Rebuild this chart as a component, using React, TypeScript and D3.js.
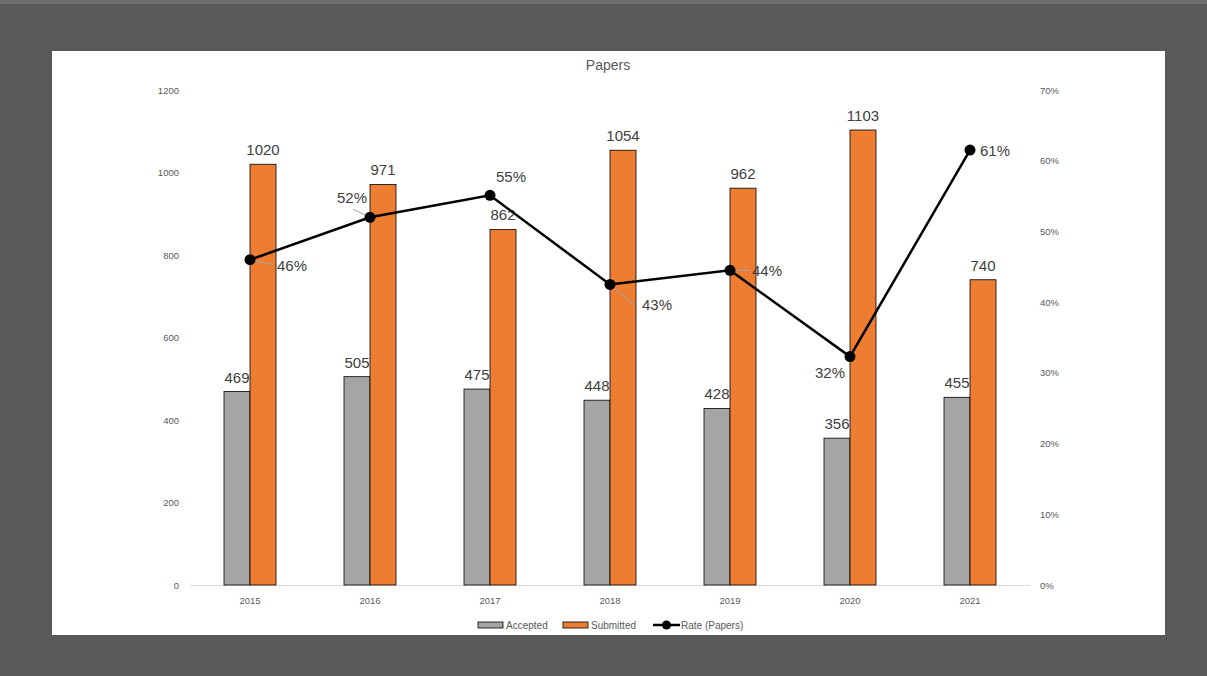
import React from "react";
import * as d3 from "d3";

const years = ["2015", "2016", "2017", "2018", "2019", "2020", "2021"];
const accepted = [469, 505, 475, 448, 428, 356, 455];
const submitted = [1020, 971, 862, 1054, 962, 1103, 740];
const rate = [0.46, 0.52, 0.551, 0.425, 0.445, 0.323, 0.615];
const rateLabels = ["46%", "52%", "55%", "43%", "44%", "32%", "61%"];
const leftTicks = [0, 200, 400, 600, 800, 1000, 1200];
const rightTicks = [0, 0.1, 0.2, 0.3, 0.4, 0.5, 0.6, 0.7];

// label placement relative to point: [dx, dy] of text center
const rateLabelOffsets: [number, number][] = [
  [42, 6],
  [-18, -19],
  [21, -18],
  [47, 21],
  [37, 1],
  [-20, 16],
  [25, 1],
];
// leader line end relative to point (null = none)
const leaderEnds: ([number, number] | null)[] = [
  [23, 5],
  [-17, -8],
  null,
  [25, 21],
  [20, 0],
  null,
  null,
];

const W = 1207;
const H = 676;
const FONT = "'Liberation Sans', 'DejaVu Sans', sans-serif";

export default function App() {
  const x = d3.scaleBand<string>().domain(years).range([190, 1030]).padding(0);
  const yL = d3.scaleLinear().domain([0, 1200]).range([585, 90]);
  const yR = d3.scaleLinear().domain([0, 0.7]).range([585, 90]);
  const bw = 26;
  const cx = (y: string) => (x(y) as number) + x.bandwidth() / 2;
  const line = d3
    .line<number>()
    .x((_, i) => cx(years[i]))
    .y((d) => yR(d));

  return (
    <div style={{ position: "absolute", left: 0, top: 0 }}>
      <svg width={W} height={H} style={{ display: "block" }} fontFamily={FONT}>
        <rect x={0} y={0} width={W} height={H} fill="#595959" />
        <rect x={0} y={0} width={W} height={4} fill="#6e6e6e" />
        <rect x={52} y={51} width={1113} height={584} fill="#ffffff" />
        <text x={608} y={70} textAnchor="middle" fontSize={14} fill="#595959">
          Papers
        </text>
        {leftTicks.map((t) => (
          <text key={"l" + t} x={179} y={yL(t) + 3.5} textAnchor="end" fontSize={9.5} fill="#595959">
            {t}
          </text>
        ))}
        {rightTicks.map((t) => (
          <text key={"r" + t} x={1040} y={yR(t) + 3.5} textAnchor="start" fontSize={9.5} fill="#595959">
            {d3.format(".0%")(t)}
          </text>
        ))}
        <line x1={190} x2={1030} y1={585.5} y2={585.5} stroke="#d9d9d9" strokeWidth={1} />
        {years.map((yr) => (
          <text key={"x" + yr} x={cx(yr)} y={604} textAnchor="middle" fontSize={9.5} fill="#595959">
            {yr}
          </text>
        ))}
        {years.map((yr, i) => (
          <g key={"b" + yr}>
            <rect
              x={cx(yr) - bw}
              y={yL(accepted[i])}
              width={bw}
              height={yL(0) - yL(accepted[i])}
              fill="#a5a5a5"
              stroke="#000"
              strokeWidth={0.8}
            />
            <rect
              x={cx(yr)}
              y={yL(submitted[i])}
              width={bw}
              height={yL(0) - yL(submitted[i])}
              fill="#ed7d31"
              stroke="#000"
              strokeWidth={0.8}
            />
            <text x={cx(yr) - bw / 2} y={yL(accepted[i]) - 9} textAnchor="middle" fontSize={15} fill="#404040">
              {accepted[i]}
            </text>
            <text x={cx(yr) + bw / 2} y={yL(submitted[i]) - 9} textAnchor="middle" fontSize={15} fill="#404040">
              {submitted[i]}
            </text>
          </g>
        ))}
        {rate.map((r, i) => {
          const le = leaderEnds[i];
          if (!le) return null;
          const px = cx(years[i]);
          const py = yR(r);
          return (
            <line
              key={"ll" + i}
              x1={px}
              y1={py}
              x2={px + le[0]}
              y2={py + le[1]}
              stroke="#a6a6a6"
              strokeWidth={1}
            />
          );
        })}
        <path d={line(rate) || ""} fill="none" stroke="#000" strokeWidth={2.5} />
        {rate.map((r, i) => (
          <circle key={"c" + i} cx={cx(years[i])} cy={yR(r)} r={5.5} fill="#000" />
        ))}
        {rate.map((r, i) => {
          const [dx, dy] = rateLabelOffsets[i];
          return (
            <text
              key={"rl" + i}
              x={cx(years[i]) + dx}
              y={yR(r) + dy + 5}
              textAnchor="middle"
              fontSize={15}
              fill="#404040"
            >
              {rateLabels[i]}
            </text>
          );
        })}
        <g fontSize={10} fill="#595959">
          <rect x={478} y={622} width={25} height={6} fill="#a5a5a5" stroke="#000" strokeWidth={0.8} />
          <text x={506} y={629}>Accepted</text>
          <rect x={563} y={622} width={25} height={6} fill="#ed7d31" stroke="#000" strokeWidth={0.8} />
          <text x={591} y={629}>Submitted</text>
          <line x1={653} x2={680} y1={625} y2={625} stroke="#000" strokeWidth={2.5} />
          <circle cx={666.5} cy={625} r={4.5} fill="#000" />
          <text x={681} y={629}>Rate (Papers)</text>
        </g>
      </svg>
    </div>
  );
}
